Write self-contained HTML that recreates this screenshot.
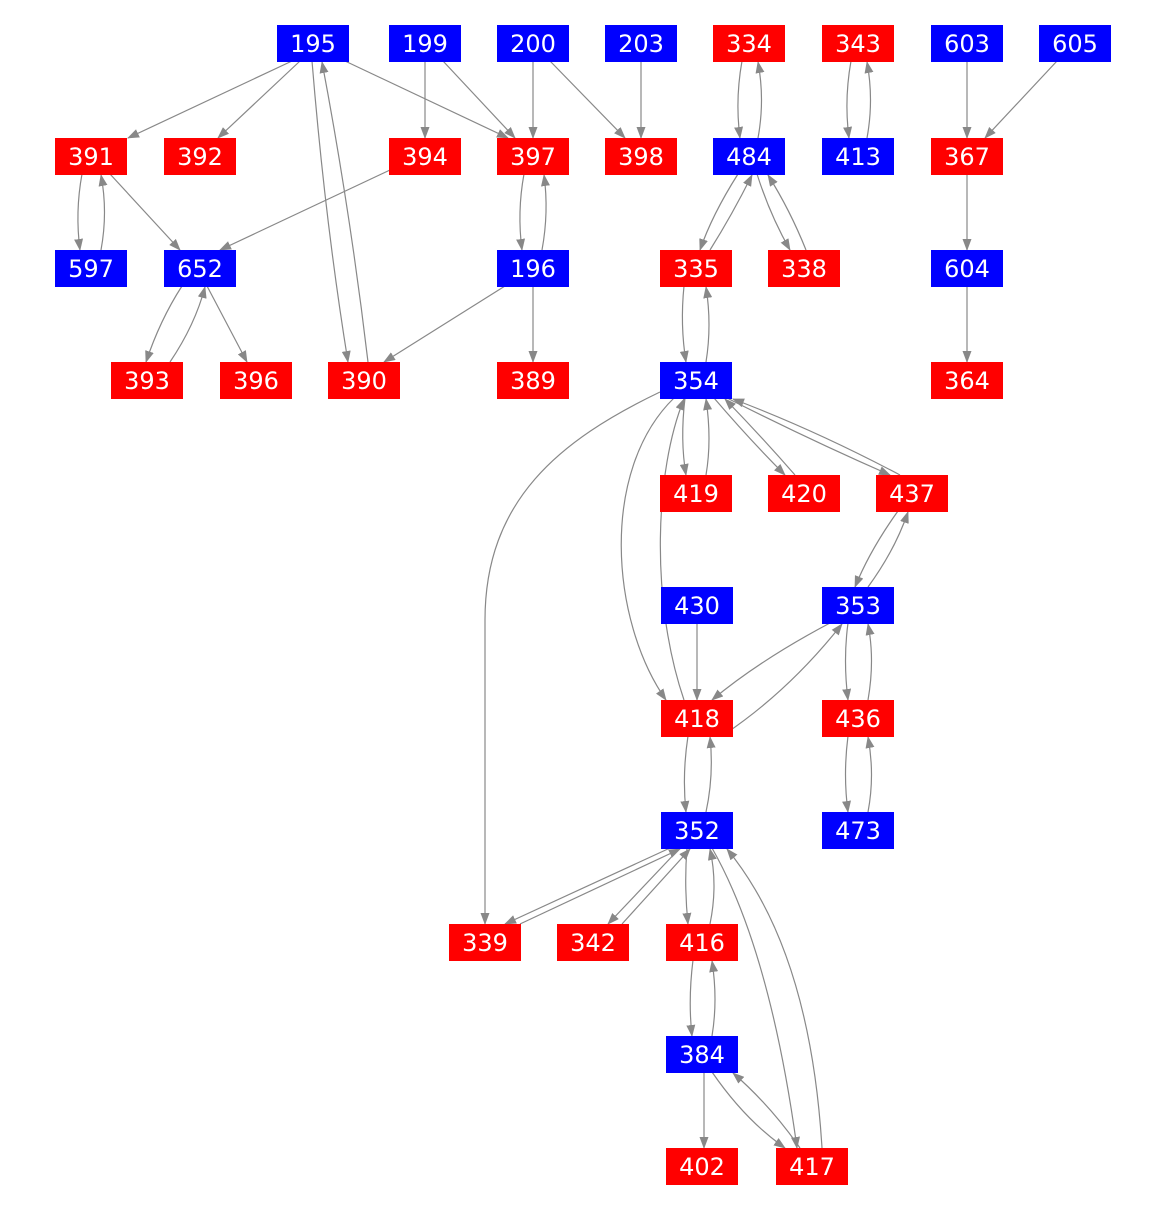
<!DOCTYPE html>
<html><head><meta charset="utf-8"><style>body{margin:0;background:#fff}svg{display:block}</style></head>
<body>
<svg width="1167" height="1212" viewBox="0 0 1167 1212" xmlns="http://www.w3.org/2000/svg">
<defs><marker id="a" markerUnits="userSpaceOnUse" markerWidth="12" markerHeight="9" refX="11" refY="4.5" orient="auto"><path d="M0,0 L12,4.5 L0,9 z" fill="#888"/></marker></defs>
<g fill="none" stroke="#888" stroke-width="1.2" marker-end="url(#a)">
<path d="M292,61 L128,138"/><path d="M300,61 L218,138"/><path d="M345,61 L508,138"/>
<path d="M312,61 Q325,220 348,362"/><path d="M368,362 Q350,210 322,62"/>
<path d="M425,61 L425,138"/><path d="M443,61 L515,138"/><path d="M533,61 L533,138"/>
<path d="M550,61 L625,138"/><path d="M641,61 L641,138"/>
<path d="M742,61 Q735,100 740,138"/><path d="M758,138 Q765,100 758,62"/>
<path d="M851,61 Q844,100 849,138"/><path d="M867,138 Q874,100 867,62"/>
<path d="M967,61 L967,138"/><path d="M1057,61 L985,138"/>
<path d="M967,174 L967,250"/><path d="M967,286 L967,362"/>
<path d="M82,174 Q75,212 80,250"/><path d="M101,250 Q108,212 101,175"/>
<path d="M110,174 L180,250"/><path d="M390,170 L220,250"/>
<path d="M182,286 Q160,320 146,362"/><path d="M170,362 Q195,325 205,287"/>
<path d="M207,286 L247,362"/>
<path d="M524,174 Q517,212 522,250"/><path d="M542,250 Q549,212 544,175"/>
<path d="M505,286 L384,362"/><path d="M533,286 L533,362"/>
<path d="M738,174 Q712,215 700,250"/><path d="M710,250 Q732,215 752,175"/>
<path d="M757,174 Q770,215 790,250"/><path d="M806,250 Q790,210 768,175"/>
<path d="M684,286 Q680,325 686,362"/><path d="M706,362 Q712,325 706,287"/>
<path d="M660,392 C560,440 485,500 485,620 L485,924"/>
<path d="M674,398 C600,470 610,620 666,700"/>
<path d="M684,700 C650,600 655,470 684,399"/>
<path d="M685,398 Q680,440 686,475"/><path d="M706,475 Q712,440 706,399"/>
<path d="M714,398 Q750,440 785,475"/><path d="M795,475 Q760,435 725,399"/>
<path d="M727,398 Q810,440 890,475"/><path d="M900,475 Q815,430 733,399"/>
<path d="M898,511 Q870,550 855,587"/><path d="M868,587 Q895,550 908,512"/>
<path d="M697,623 L697,700"/>
<path d="M830,623 Q760,660 712,700"/><path d="M725,734 Q790,690 842,624"/>
<path d="M848,623 Q843,660 848,700"/><path d="M868,700 Q875,660 868,624"/>
<path d="M848,736 Q843,775 848,812"/><path d="M868,812 Q875,775 868,737"/>
<path d="M688,736 Q682,775 686,812"/><path d="M706,812 Q714,775 710,737"/>
<path d="M670,848 L505,924"/><path d="M520,924 L680,849"/>
<path d="M680,848 L608,924"/><path d="M622,924 L690,849"/>
<path d="M687,848 Q684,885 688,924"/><path d="M710,924 Q718,885 710,849"/>
<path d="M712,848 Q770,950 797,1148"/><path d="M822,1148 Q810,950 727,849"/>
<path d="M693,960 Q688,1000 692,1036"/><path d="M712,1036 Q718,1000 712,961"/>
<path d="M704,1072 L704,1148"/>
<path d="M712,1072 Q745,1120 785,1148"/><path d="M800,1148 Q770,1105 733,1073"/>
</g>
<g font-family="DejaVu Sans, sans-serif" font-size="24" fill="#fff" text-anchor="middle">
<g fill="#00f">
<rect x="277" y="25" width="72" height="37"/><rect x="389" y="25" width="72" height="37"/><rect x="497" y="25" width="72" height="37"/><rect x="605" y="25" width="72" height="37"/><rect x="931" y="25" width="72" height="37"/><rect x="1039" y="25" width="72" height="37"/>
<rect x="713" y="138" width="72" height="37"/><rect x="822" y="138" width="72" height="37"/>
<rect x="55" y="250" width="72" height="37"/><rect x="164" y="250" width="72" height="37"/><rect x="497" y="250" width="72" height="37"/><rect x="931" y="250" width="72" height="37"/>
<rect x="660" y="362" width="72" height="37"/>
<rect x="661" y="587" width="72" height="37"/><rect x="822" y="587" width="72" height="37"/>
<rect x="661" y="812" width="72" height="37"/><rect x="822" y="812" width="72" height="37"/>
<rect x="666" y="1036" width="72" height="37"/>
</g>
<g fill="#f00">
<rect x="713" y="25" width="72" height="37"/><rect x="822" y="25" width="72" height="37"/>
<rect x="55" y="138" width="72" height="37"/><rect x="164" y="138" width="72" height="37"/><rect x="389" y="138" width="72" height="37"/><rect x="497" y="138" width="72" height="37"/><rect x="605" y="138" width="72" height="37"/><rect x="931" y="138" width="72" height="37"/>
<rect x="660" y="250" width="72" height="37"/><rect x="768" y="250" width="72" height="37"/>
<rect x="111" y="362" width="72" height="37"/><rect x="220" y="362" width="72" height="37"/><rect x="328" y="362" width="72" height="37"/><rect x="497" y="362" width="72" height="37"/><rect x="931" y="362" width="72" height="37"/>
<rect x="660" y="475" width="72" height="37"/><rect x="768" y="475" width="72" height="37"/><rect x="876" y="475" width="72" height="37"/>
<rect x="661" y="700" width="72" height="37"/><rect x="822" y="700" width="72" height="37"/>
<rect x="449" y="924" width="72" height="37"/><rect x="557" y="924" width="72" height="37"/><rect x="666" y="924" width="72" height="37"/>
<rect x="666" y="1148" width="72" height="37"/><rect x="776" y="1148" width="72" height="37"/>
</g>
<g transform="translate(0,1)">
<text x="313" y="51">195</text><text x="425" y="51">199</text><text x="533" y="51">200</text><text x="641" y="51">203</text><text x="749" y="51">334</text><text x="858" y="51">343</text><text x="967" y="51">603</text><text x="1075" y="51">605</text>
<text x="91" y="164">391</text><text x="200" y="164">392</text><text x="425" y="164">394</text><text x="533" y="164">397</text><text x="641" y="164">398</text><text x="749" y="164">484</text><text x="858" y="164">413</text><text x="967" y="164">367</text>
<text x="91" y="276">597</text><text x="200" y="276">652</text><text x="533" y="276">196</text><text x="696" y="276">335</text><text x="804" y="276">338</text><text x="967" y="276">604</text>
<text x="147" y="388">393</text><text x="256" y="388">396</text><text x="364" y="388">390</text><text x="533" y="388">389</text><text x="696" y="388">354</text><text x="967" y="388">364</text>
<text x="696" y="501">419</text><text x="804" y="501">420</text><text x="912" y="501">437</text>
<text x="697" y="613">430</text><text x="858" y="613">353</text>
<text x="697" y="726">418</text><text x="858" y="726">436</text>
<text x="697" y="838">352</text><text x="858" y="838">473</text>
<text x="485" y="950">339</text><text x="593" y="950">342</text><text x="702" y="950">416</text>
<text x="702" y="1062">384</text>
<text x="702" y="1174">402</text><text x="812" y="1174">417</text>
</g>
</g>
</svg>
</body></html>
